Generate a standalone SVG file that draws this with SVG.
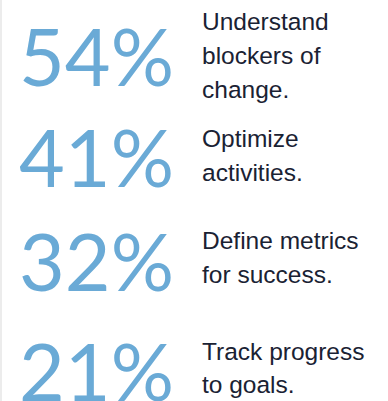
<svg xmlns="http://www.w3.org/2000/svg" width="388" height="401" viewBox="0 0 388 401">
<style>
.num{font-family:Lato,"Open Sans",sans-serif;font-size:79px;fill:#6aaad6;text-anchor:end}
.lbl{font-family:"Liberation Sans",Arial,sans-serif;font-size:24.5px;fill:#1a2233}
</style>
<rect width="388" height="401" fill="#ffffff"/>
<rect x="0" y="0" width="2" height="401" fill="#ececec"/>
<g id="stat-54">
<text class="num" x="174" y="86">54%</text>
<text class="lbl" x="202" y="30">Understand</text>
<text class="lbl" x="202" y="64">blockers of</text>
<text class="lbl" x="202" y="98">change.</text>
</g>
<g id="stat-41">
<text class="num" x="174" y="187">41%</text>
<text class="lbl" x="202" y="147">Optimize</text>
<text class="lbl" x="202" y="181">activities.</text>
</g>
<g id="stat-32">
<text class="num" x="174" y="291">32%</text>
<text class="lbl" x="202" y="249">Define metrics</text>
<text class="lbl" x="202" y="283">for success.</text>
</g>
<g id="stat-21">
<text class="num" x="174" y="401">21%</text>
<text class="lbl" x="202" y="360">Track progress</text>
<text class="lbl" x="202" y="393">to goals.</text>
</g>
<g id="connectors"></g>
</svg>
